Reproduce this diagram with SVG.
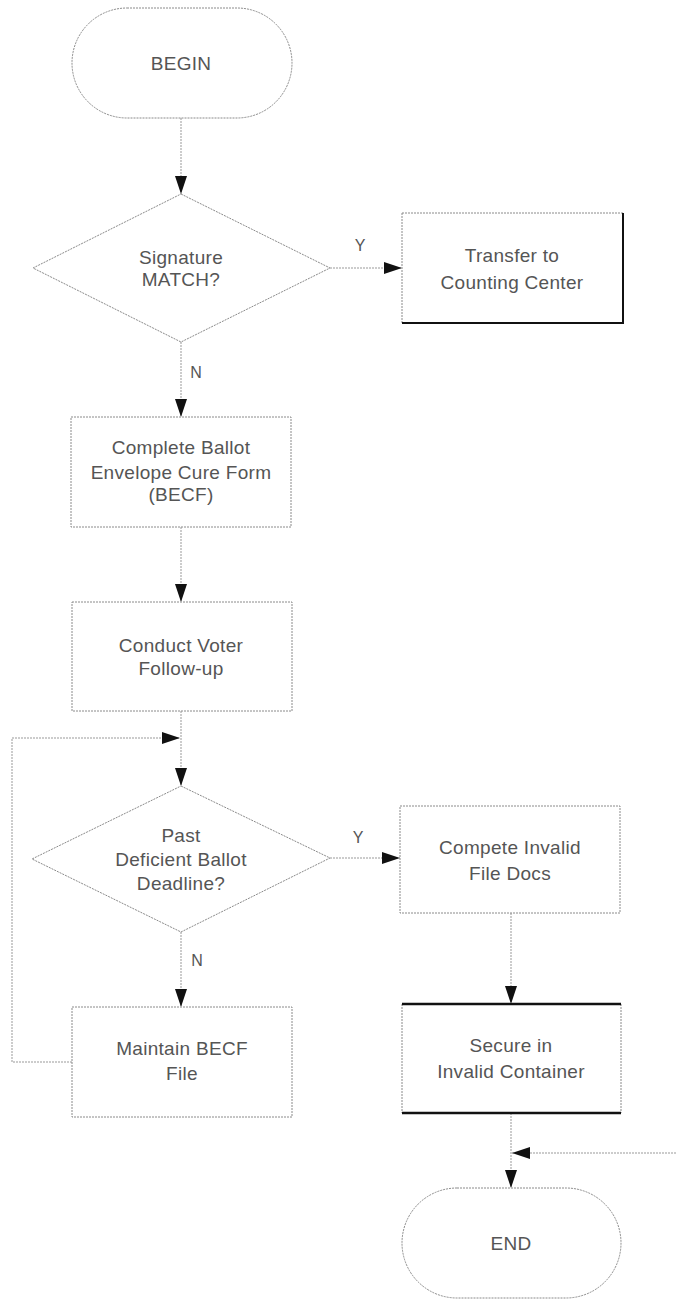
<svg xmlns="http://www.w3.org/2000/svg" width="676" height="1300" viewBox="0 0 676 1300">
<style>
.node{fill:#fff;stroke:#8a8a8a;stroke-width:1;stroke-dasharray:2,1}
.t{font-family:"Liberation Sans",Arial,sans-serif;font-size:19px;letter-spacing:0.3px;fill:#555;text-anchor:middle}
.lbl{font-family:"Liberation Sans",Arial,sans-serif;font-size:16px;fill:#555;text-anchor:middle}
.c{fill:none;stroke:#999;stroke-width:1;stroke-dasharray:2,1}
.dark{stroke:#111;stroke-width:2.5;fill:none}
</style>
<defs>
<marker id="ah" markerUnits="userSpaceOnUse" markerWidth="20" markerHeight="14" refX="18" refY="6" orient="auto">
<path d="M0,0 L18,6 L0,12 Z" fill="#111"/>
</marker>
</defs>
<rect width="676" height="1300" fill="#fff"/>
<g id="connectors">
<path class="c" d="M181,118 V194" marker-end="url(#ah)"/>
<path class="c" d="M330,268 H402" marker-end="url(#ah)"/>
<path class="c" d="M181,342 V417" marker-end="url(#ah)"/>
<path class="c" d="M181,527 V602" marker-end="url(#ah)"/>
<path class="c" d="M181,711 V786" marker-end="url(#ah)"/>
<path class="c" d="M72,1062 H12 V738 H180" marker-end="url(#ah)"/>
<path class="c" d="M181,932 V1007" marker-end="url(#ah)"/>
<path class="c" d="M330,858 H400" marker-end="url(#ah)"/>
<path class="c" d="M511,913 V1004" marker-end="url(#ah)"/>
<path class="c" d="M676,1153 H512" marker-end="url(#ah)"/>
<path class="c" d="M511,1113 V1188" marker-end="url(#ah)"/>
<text class="lbl" x="360" y="251">Y</text>
<text class="lbl" x="196" y="378">N</text>
<text class="lbl" x="358" y="843">Y</text>
<text class="lbl" x="197" y="966">N</text>
</g>
<g id="begin">
<rect class="node" x="72" y="8" width="220" height="110" rx="55" ry="55"/>
<text class="t" x="181" y="70">BEGIN</text>
</g>
<g id="signature-match">
<polygon class="node" points="181,194 330,268 181,342 33,268"/>
<text class="t" x="181" y="264">Signature</text>
<text class="t" x="181" y="286">MATCH?</text>
</g>
<g id="transfer">
<rect class="node" x="402" y="213" width="221" height="110"/>
<path class="dark" d="M623,213 V323 H402" style="stroke-width:2"/>
<text class="t" x="512" y="262">Transfer to</text>
<text class="t" x="512" y="289">Counting Center</text>
</g>
<g id="complete-becf">
<rect class="node" x="71" y="417" width="220" height="110"/>
<text class="t" x="181" y="454">Complete Ballot</text>
<text class="t" x="181" y="479">Envelope Cure Form</text>
<text class="t" x="181" y="501">(BECF)</text>
</g>
<g id="conduct-followup">
<rect class="node" x="72" y="602" width="220" height="109"/>
<text class="t" x="181" y="652">Conduct Voter</text>
<text class="t" x="181" y="675">Follow-up</text>
</g>
<g id="past-deadline">
<polygon class="node" points="181,786 330,858 181,932 32,859"/>
<text class="t" x="181" y="842">Past</text>
<text class="t" x="181" y="866">Deficient Ballot</text>
<text class="t" x="181" y="890">Deadline?</text>
</g>
<g id="invalid-docs">
<rect class="node" x="400" y="806" width="220" height="107"/>
<text class="t" x="510" y="854">Compete Invalid</text>
<text class="t" x="510" y="880">File Docs</text>
</g>
<g id="maintain-becf">
<rect class="node" x="72" y="1007" width="220" height="110"/>
<text class="t" x="182" y="1055">Maintain BECF</text>
<text class="t" x="182" y="1080">File</text>
</g>
<g id="secure-container">
<rect class="node" x="402" y="1004" width="219" height="109"/>
<path class="dark" d="M402,1004 H621 M402,1113 H621"/>
<text class="t" x="511" y="1052">Secure in</text>
<text class="t" x="511" y="1078">Invalid Container</text>
</g>
<g id="end">
<rect class="node" x="402" y="1188" width="219" height="110" rx="55" ry="55"/>
<text class="t" x="511" y="1250">END</text>
</g>
</svg>
